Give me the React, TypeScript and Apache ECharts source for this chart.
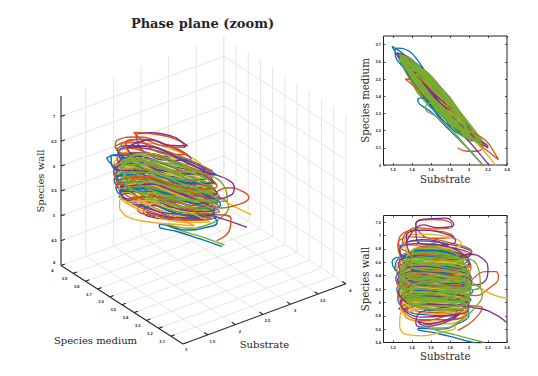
import React, { useEffect, useRef } from "react";
import * as echarts from "echarts";

type T = number[];

const chartTitle = "Phase plane (zoom)";
const substrateName = "Substrate";
const mediumName = "Species medium";
const wallName = "Species wall";

const colors = { blue: "#0072BD", orange: "#D95319", yellow: "#EDB120", purple: "#7E2F8E", green: "#77AC30" };

const mainSubstrateTicks = [1.5, 2, 2.5, 3, 3.5, 4];
const mainMediumTicks = [3, 3.1, 3.2, 3.3, 3.4, 3.5, 3.6, 3.7, 3.8, 3.9, 4];
const mainWallTicks = [4, 4.5, 5, 5.5, 6, 6.5, 7];
const sideSubstrateTicks = [1.2, 1.4, 1.6, 1.8, 2, 2.2, 2.4];
const sideMediumTicks = [3, 3.1, 3.2, 3.3, 3.4, 3.5, 3.6, 3.7];
const sideWallTicks = [5.4, 5.6, 5.8, 6, 6.2, 6.4, 6.6, 6.8, 7, 7.2];

// [substrate, medium, wall]
const blueTrack: T[] = [
  [2.16,2.99,5.37],[1.98,3.1,5.42],[1.8,3.2,5.49],[1.62,3.3,5.55],[1.46,3.38,5.6],[1.5,3.39,5.61],[1.7,3.27,5.6],[1.88,3.2,5.68],[2.0,3.15,5.82],[1.9,3.25,5.95],[1.62,3.42,5.98],[1.36,3.54,5.92],
  [1.26,3.62,5.9],[1.44,3.56,6.02],[1.8,3.35,5.97],[2.0,3.16,5.9],[1.82,3.25,5.8],[1.48,3.47,5.82],
  [1.25,3.64,6.06],[1.42,3.59,6.18],[1.78,3.37,6.12],[2.02,3.14,6.04],[1.84,3.23,5.94],[1.45,3.48,5.97],
  [1.24,3.65,6.2],[1.4,3.6,6.32],[1.8,3.36,6.26],[2.04,3.14,6.17],[1.86,3.2,6.08],[1.48,3.45,6.1],
  [1.23,3.65,6.36],[1.38,3.62,6.48],[1.76,3.41,6.44],[2.03,3.15,6.32],[1.82,3.21,6.24],[1.43,3.47,6.26],
  [1.22,3.66,6.5],[1.19,3.69,6.6],[1.3,3.65,6.68],[1.6,3.5,6.68],[1.95,3.26,6.5],[2.02,3.16,6.38],[1.8,3.27,6.38],[1.4,3.52,6.46],
  [1.22,3.66,6.48],[1.25,3.68,6.64],[1.62,3.49,6.78],[2.0,3.22,6.64],[1.8,3.28,6.54],[1.44,3.5,6.58],
  [1.27,3.64,6.8],[1.44,3.58,6.92],[1.82,3.35,6.86],[2.03,3.17,6.74],[1.8,3.29,6.66],[1.44,3.5,6.7],
  [1.3,3.62,6.68],[1.48,3.56,6.78],[1.85,3.32,6.72],[2.01,3.17,6.58],[1.82,3.26,6.52],[1.48,3.46,6.54],
  [1.25,3.64,6.28],[1.44,3.57,6.4],[1.84,3.32,6.32],[2.02,3.15,6.22],[1.84,3.23,6.14],[1.5,3.45,6.18],
  [1.27,3.62,6.0],[1.44,3.55,6.1],[1.8,3.35,6.04],[1.99,3.17,5.97],[1.82,3.24,5.87],[1.56,3.42,5.88],
];

const orangeTrack: T[] = [
  [1.88,3.1,5.58],[1.98,3.08,5.66],[2.08,3.08,5.78],[2.14,3.1,5.92],[2.02,3.16,5.95],[1.9,3.22,5.88],[1.72,3.3,5.78],[1.5,3.42,5.72],[1.33,3.5,5.8],[1.5,3.48,5.9],[1.85,3.32,5.9],[1.98,3.19,5.84],
  [1.82,3.28,5.74],[1.5,3.47,5.74],[1.28,3.62,5.97],[1.46,3.55,6.08],[1.82,3.34,6.02],[2.0,3.17,5.94],[1.84,3.24,5.84],[1.5,3.45,5.86],
  [1.25,3.64,6.14],[1.44,3.57,6.26],[1.8,3.36,6.2],[2.06,3.14,6.1],[2.2,3.08,6.2],[2.31,3.03,6.38],[2.28,3.06,6.46],[2.18,3.14,6.46],[1.96,3.22,6.28],[1.5,3.45,6.12],
  [1.24,3.65,6.3],[1.42,3.59,6.42],[1.84,3.33,6.36],[2.02,3.15,6.28],[1.88,3.2,6.18],[1.48,3.46,6.22],
  [1.24,3.65,6.48],[1.4,3.61,6.6],[1.78,3.39,6.56],[2.01,3.17,6.44],[1.8,3.27,6.34],[1.42,3.51,6.38],
  [1.27,3.64,6.64],[1.44,3.59,6.76],[1.84,3.35,6.68],[2.02,3.17,6.56],[1.8,3.28,6.48],[1.44,3.5,6.52],
  [1.25,3.65,6.86],[1.38,3.6,6.98],[1.72,3.43,6.92],[2.03,3.2,6.76],[1.76,3.31,6.7],[1.42,3.52,6.74],
  [1.26,3.65,6.88],[1.28,3.64,7.0],[1.46,3.58,7.08],[1.72,3.42,7.06],[1.84,3.32,6.98],[1.62,3.4,6.96],[1.5,3.5,7.02],
  [1.44,3.58,7.18],[1.62,3.47,7.24],[1.8,3.36,7.2],[1.82,3.33,7.12],[1.6,3.42,7.1],[1.45,3.53,7.12],
  [1.3,3.62,6.92],[1.5,3.55,6.84],[1.9,3.28,6.72],[2.02,3.16,6.52],[1.84,3.24,6.42],[1.48,3.47,6.46],
  [1.27,3.63,6.22],[1.44,3.56,6.32],[1.8,3.35,6.26],[2.01,3.16,6.16],[1.84,3.24,6.08],[1.54,3.43,6.08],
  [1.32,3.59,5.86],[1.48,3.53,5.96],[1.78,3.36,5.92],[1.96,3.2,5.82],[1.76,3.3,5.72],[1.56,3.42,5.68],
];

const yellowTrack: T[] = [
  [2.4,2.92,6.06],[2.28,3.0,6.1],[2.16,3.08,6.18],[2.02,3.17,6.3],[1.84,3.3,6.32],[1.5,3.46,6.22],
  [1.26,3.63,6.12],[1.42,3.58,6.22],[1.82,3.34,6.16],[2.0,3.17,6.06],[1.82,3.25,5.98],[1.48,3.47,6.0],
  [1.28,3.62,5.84],[1.27,3.62,5.66],[1.34,3.58,5.52],[1.5,3.49,5.5],[1.72,3.36,5.56],[1.86,3.27,5.62],[1.7,3.36,5.7],[1.44,3.5,5.72],
  [1.28,3.62,5.92],[1.44,3.56,6.02],[1.8,3.35,5.98],[1.98,3.18,5.92],[1.8,3.27,5.82],[1.5,3.47,5.84],
  [1.25,3.64,6.32],[1.44,3.58,6.44],[1.82,3.35,6.38],[2.02,3.16,6.3],[1.86,3.22,6.2],[1.48,3.46,6.24],
  [1.24,3.65,6.54],[1.42,3.6,6.64],[1.8,3.37,6.6],[2.0,3.19,6.48],[1.8,3.27,6.4],[1.44,3.5,6.44],
  [1.27,3.63,6.74],[1.44,3.58,6.86],[1.82,3.36,6.8],[2.0,3.19,6.7],[1.78,3.31,6.6],[1.44,3.5,6.64],
  [1.32,3.61,6.94],[1.5,3.53,7.02],[1.78,3.38,6.98],[1.92,3.25,6.88],[1.72,3.34,6.8],[1.46,3.5,6.82],
  [1.27,3.62,6.4],[1.46,3.56,6.52],[1.84,3.33,6.46],[2.03,3.15,6.36],[1.84,3.24,6.28],[1.5,3.45,6.32],
  [1.26,3.63,6.04],[1.44,3.57,6.16],[1.82,3.34,6.1],[2.01,3.16,6.02],[1.82,3.26,5.92],[1.52,3.44,5.94],
  [1.32,3.59,5.8],[1.48,3.51,5.9],[1.78,3.35,5.86],[1.96,3.19,5.78],[1.76,3.3,5.68],[1.52,3.44,5.68],
];

const purpleTrack: T[] = [
  [2.4,2.87,5.7],[2.21,3.0,5.87],[2.06,3.1,5.92],[1.9,3.2,5.95],[1.72,3.34,5.92],[1.5,3.47,5.86],
  [1.44,3.5,5.7],[1.5,3.47,5.63],[1.66,3.38,5.66],[1.82,3.28,5.74],[1.88,3.24,5.8],[1.72,3.34,5.72],[1.52,3.46,5.66],
  [1.46,3.49,5.72],[1.58,3.44,5.68],[1.76,3.32,5.74],[1.92,3.22,5.84],[1.76,3.32,5.8],[1.5,3.47,5.78],
  [1.28,3.62,6.0],[1.44,3.56,6.12],[1.82,3.34,6.06],[2.0,3.17,5.98],[1.82,3.25,5.88],[1.5,3.46,5.92],
  [1.26,3.63,6.16],[1.42,3.59,6.28],[1.82,3.35,6.22],[2.02,3.15,6.14],[1.86,3.22,6.06],[1.5,3.45,6.08],
  [1.25,3.64,6.34],[1.44,3.58,6.46],[1.82,3.35,6.4],[2.03,3.14,6.3],[1.88,3.2,6.22],[1.5,3.45,6.26],
  [1.26,3.63,6.58],[1.44,3.59,6.68],[1.8,3.38,6.64],[2.0,3.2,6.72],[2.14,3.12,6.66],[2.2,3.1,6.5],[2.18,3.12,6.34],[2.02,3.17,6.26],[1.7,3.36,6.38],[1.44,3.5,6.46],
  [1.27,3.63,6.78],[1.44,3.58,6.88],[1.82,3.36,6.82],[2.02,3.18,6.72],[1.76,3.32,6.64],[1.44,3.51,6.68],
  [1.34,3.6,6.98],[1.5,3.54,7.08],[1.76,3.4,7.02],[1.86,3.3,6.92],[1.7,3.36,6.86],[1.46,3.5,6.9],
  [1.44,3.56,7.16],[1.56,3.5,7.25],[1.76,3.38,7.26],[1.84,3.32,7.16],[1.66,3.4,7.12],[1.52,3.48,7.16],
  [1.34,3.59,6.9],[1.5,3.54,6.94],[1.84,3.34,6.8],[2.0,3.19,6.6],[1.84,3.25,6.5],[1.48,3.47,6.54],
  [1.24,3.65,6.42],[1.42,3.6,6.54],[1.84,3.33,6.48],[2.02,3.16,6.38],[1.86,3.23,6.28],[1.5,3.45,6.32],
  [1.28,3.62,6.08],[1.44,3.57,6.2],[1.82,3.34,6.14],[2.0,3.17,6.04],[1.84,3.24,5.96],[1.56,3.42,5.98],
];

const greenTrack: T[] = [
  [2.16,2.99,5.4],[2.0,3.09,5.46],[1.84,3.19,5.52],[1.66,3.28,5.58],[1.54,3.33,5.64],[1.58,3.36,5.62],[1.74,3.27,5.62],[1.9,3.2,5.72],[2.06,3.14,5.92],[2.14,3.12,6.12],[2.06,3.17,6.26],[1.86,3.27,6.12],[1.5,3.46,5.98],
  [1.44,3.53,5.96],[1.58,3.46,6.02],[1.76,3.36,6.0],[1.9,3.23,5.94],[1.74,3.31,5.9],[1.56,3.43,5.92],
  [1.38,3.56,5.98],[1.5,3.52,6.06],[1.82,3.35,6.02],[1.98,3.18,5.96],[1.82,3.26,5.88],[1.5,3.44,5.92],
  [1.34,3.58,6.04],[1.46,3.57,6.12],[1.84,3.32,6.08],[2.0,3.17,6.02],[1.84,3.24,5.94],[1.48,3.47,5.96],
  [1.3,3.6,6.12],[1.46,3.54,6.2],[1.86,3.31,6.14],[2.0,3.16,6.08],[1.88,3.21,6.0],[1.5,3.43,6.02],
  [1.28,3.63,6.18],[1.44,3.59,6.28],[1.84,3.35,6.22],[2.02,3.15,6.14],[1.86,3.2,6.06],[1.52,3.42,6.08],
  [1.27,3.61,6.26],[1.46,3.55,6.36],[1.88,3.3,6.3],[2.01,3.17,6.22],[1.84,3.25,6.14],[1.46,3.47,6.16],
  [1.27,3.64,6.34],[1.42,3.6,6.44],[1.84,3.33,6.38],[2.02,3.14,6.3],[1.88,3.21,6.22],[1.5,3.46,6.24],
  [1.27,3.62,6.42],[1.46,3.56,6.52],[1.82,3.37,6.46],[2.01,3.18,6.38],[1.82,3.27,6.3],[1.48,3.44,6.32],
  [1.28,3.64,6.5],[1.44,3.59,6.6],[1.84,3.32,6.54],[2.0,3.19,6.46],[1.86,3.23,6.38],[1.46,3.49,6.4],
  [1.3,3.62,6.58],[1.46,3.57,6.66],[1.82,3.36,6.62],[1.98,3.2,6.54],[1.82,3.25,6.46],[1.5,3.45,6.48],
  [1.34,3.6,6.66],[1.48,3.56,6.74],[1.8,3.38,6.7],[1.94,3.24,6.62],[1.8,3.28,6.56],[1.46,3.48,6.58],
  [1.4,3.57,6.74],[1.52,3.52,6.82],[1.76,3.38,6.78],[1.88,3.27,6.7],[1.72,3.33,6.66],[1.48,3.49,6.68],
  [1.28,3.62,6.5],[1.44,3.57,6.62],[1.96,3.26,6.66],[2.1,3.13,6.5],[2.12,3.12,6.24],[1.96,3.2,6.18],[1.6,3.4,6.14],[1.4,3.54,6.08],
  [1.32,3.6,6.14],[1.48,3.53,6.24],[1.84,3.33,6.18],[2.01,3.17,6.1],[1.84,3.25,6.02],[1.48,3.45,6.04],
  [1.29,3.6,6.32],[1.47,3.56,6.4],[1.86,3.32,6.34],[2.02,3.16,6.26],[1.85,3.24,6.18],[1.47,3.48,6.2],
  [1.3,3.63,6.46],[1.46,3.56,6.56],[1.82,3.34,6.5],[2.0,3.18,6.42],[1.84,3.25,6.34],[1.5,3.44,6.36],
];

const greenCoreMedium: T[] = [
  [1.277,3.652],[1.4,3.61],[1.6,3.515],[1.8,3.4],[1.9,3.32],[2.07,3.2],[2.19,3.107],[2.15,3.107],[2.05,3.136],[1.8,3.243],[1.59,3.33],[1.45,3.418],[1.33,3.535],[1.277,3.593],
];
const greenCoreWall: T[] = [
  [1.63,6.9],[1.9,6.74],[2.02,6.38],[1.88,6.06],[1.56,5.92],[1.34,6.02],[1.28,6.38],[1.36,6.76],
];

const project = (s: number, m: number, w: number) => [
  183 + 55.2 * (s - 1.05) - 122 * (m - 3),
  344 - 20.4 * (s - 1.05) - 78.5 * (m - 3) - 49.7 * (w - 4),
];

const S0 = 1.05, S1 = 4, M0 = 3, M1 = 4, W0 = 4, W1 = 7.41;
const serif = "'DejaVu Serif', 'Liberation Serif', serif";
const tickFont = "'Liberation Sans', sans-serif";

function buildGridLines() {
  const pts: (number[] | null[])[] = [];
  const seg = (a: number[], b: number[]) => {
    pts.push(project(a[0], a[1], a[2]), project(b[0], b[1], b[2]), [null, null]);
  };
  for (const s of mainSubstrateTicks) {
    seg([s, M0, W0], [s, M1, W0]);
    seg([s, M1, W0], [s, M1, W1]);
  }
  for (const m of mainMediumTicks) {
    seg([S0, m, W0], [S1, m, W0]);
    seg([S1, m, W0], [S1, m, W1]);
  }
  for (const w of mainWallTicks) {
    if (w === W0) continue;
    seg([S0, M1, w], [S1, M1, w]);
    seg([S1, M1, w], [S1, M0, w]);
  }
  return pts;
}

function buildAxisLines() {
  const pts: (number[] | null[])[] = [];
  const seg = (a: number[], b: number[]) => {
    pts.push(project(a[0], a[1], a[2]), project(b[0], b[1], b[2]), [null, null]);
  };
  seg([S0, M1, W0], [S0, M1, W1]);
  seg([S0, M1, W0], [S0, M0, W0]);
  seg([S0, M0, W0], [S1, M0, W0]);
  for (const w of mainWallTicks) seg([S0, M1, w], [S0 + 0.07, M1, w]);
  for (const m of mainMediumTicks) seg([S0, m, W0], [S0 + 0.07, m, W0]);
  for (const s of mainSubstrateTicks) seg([s, M0, W0], [s, M0 + 0.03, W0]);
  return pts;
}

const tinyLabel = (text: string | number, x: number, y: number) => ({
  type: "text",
  x,
  y,
  silent: true,
  style: { text: String(text), fontSize: 4, fontWeight: "bold", fontFamily: tickFont, fill: "#1a1a2e", align: "center", verticalAlign: "middle" },
});

const bigLabel = (text: string, x: number, y: number, size: number, rotation = 0, weight = "normal") => ({
  type: "text",
  x,
  y,
  rotation,
  silent: true,
  style: { text, fontSize: size, fontWeight: weight, fontFamily: serif, fill: "#262626", align: "center", verticalAlign: "middle" },
});

function sideAxis(idx: number, kind: "x" | "y", min: number, max: number, ticks: number[], name: string) {
  const base = {
    type: "value",
    gridIndex: idx,
    min,
    max,
    splitLine: { show: false },
    axisLine: { show: false },
    axisTick: { show: true, inside: true, length: 2, customValues: ticks, lineStyle: { color: "#222", width: 0.8 } },
  };
  const main = {
    ...base,
    position: kind === "x" ? "bottom" : "left",
    name,
    nameLocation: "middle",
    nameGap: kind === "x" ? 9 : 13,
    nameTextStyle: { fontFamily: serif, fontSize: 10.2, color: "#262626" },
    axisLabel: { show: true, customValues: ticks, fontSize: 4, fontWeight: "bold", fontFamily: tickFont, color: "#1a1a2e", margin: 2.5 },
  };
  const mirror = { ...base, position: kind === "x" ? "top" : "right", axisLabel: { show: false } };
  return [main, mirror];
}

function chunks(track: T[], size: number) {
  const out: T[][] = [];
  for (let i = 0; i < track.length - 1; i += size) out.push(track.slice(i, i + size + 1));
  return out;
}

export default function App() {
  const ref = useRef<HTMLDivElement>(null);
  useEffect(() => {
    const chart = echarts.init(ref.current!, undefined, { renderer: "svg" });
    const tracks: [string, T[]][] = [
      ["blue", blueTrack], ["orange", orangeTrack], ["yellow", yellowTrack], ["purple", purpleTrack], ["green", greenTrack],
    ];

    const line = (name: string, color: string, data: any[], x: number, y: number, width: number, smooth: number | boolean = 0.5) => ({
      type: "line", name, data, xAxisIndex: x, yAxisIndex: y, showSymbol: false, symbol: "none", smooth,
      connectNulls: false, lineStyle: { color, width }, silent: true, animation: false,
    });

    const mainSeries: any[] = [];
    const chunked = tracks.map(([n, t]) => [n, chunks(t.filter((p) => p[1] >= M0), 12)] as [string, T[][]]);
    const rounds = Math.max(...chunked.map((c) => c[1].length));
    for (let r = 0; r < rounds; r++) {
      const order = r % 2 === 0 ? [4, 2, 0, 3, 1] : [0, 4, 1, 2, 3];
      for (const i of order) {
        const [n, cs] = chunked[i];
        if (cs[r]) mainSeries.push(line(n, (colors as any)[n], cs[r].map((p) => project(p[0], p[1], p[2])), 0, 0, 1.4));
      }
    }

    const coreSeries = (name: string, pts: T[], x: number, y: number) => ({
      type: "custom",
      name,
      xAxisIndex: x,
      yAxisIndex: y,
      silent: true,
      clip: true,
      data: [pts[0]],
      renderItem: (_p: any, api: any) => ({
        type: "polygon",
        shape: { points: pts.map((q) => api.coord(q)) },
        style: { fill: colors.green },
      }),
    });

    const sideSeries = (x: number, y: number, pick: (p: T) => number[], core: any, split: number) => [
      ...tracks.slice(0, split).map(([n, t]) => line(n, (colors as any)[n], t.map(pick), x, y, 1.3)),
      core,
      ...tracks.slice(split).map(([n, t]) => line(n, (colors as any)[n], t.map(pick), x, y, 1.3)),
    ];

    const graphics: any[] = [
      bigLabel(chartTitle, 202.5, 23, 13, 0, "bold"),
      bigLabel(wallName, 40, 181, 10, Math.PI / 2),
      bigLabel(mediumName, 95.5, 340, 10),
      bigLabel(substrateName, 264.5, 344.5, 10),
    ];
    for (const w of mainWallTicks) {
      const p = project(S0, M1, w);
      graphics.push(tinyLabel(w, p[0] - 7, p[1] - (w === W0 ? 3 : 0)));
    }
    for (const m of mainMediumTicks) {
      const p = project(S0, m, W0);
      graphics.push(tinyLabel(m, p[0] - (m === 3 ? -3 : 8.7), p[1] + 5));
    }
    for (const s of mainSubstrateTicks) {
      const p = project(s, M0, W0);
      graphics.push(tinyLabel(s, p[0] + 4.5, p[1] + 6.5));
    }

    const topXs = sideAxis(1, "x", 1.1, 2.4, sideSubstrateTicks, substrateName);
    const topYs = sideAxis(1, "y", 3, 3.75, sideMediumTicks, mediumName);
    const botXs = sideAxis(2, "x", 1.1, 2.4, sideSubstrateTicks, substrateName);
    const botYs = sideAxis(2, "y", 5.4, 7.3, sideWallTicks, wallName);

    chart.setOption({
      animation: false,
      backgroundColor: "#fff",
      grid: [
        { left: 0, top: 0, width: 538, height: 376 },
        { left: 383.5, top: 36, width: 123.5, height: 129, show: true, borderColor: "#222", borderWidth: 1, backgroundColor: "transparent" },
        { left: 383.5, top: 215.5, width: 123.5, height: 127, show: true, borderColor: "#222", borderWidth: 1, backgroundColor: "transparent" },
      ],
      xAxis: [
        { type: "value", gridIndex: 0, min: 0, max: 538, show: false },
        ...topXs, ...botXs,
      ],
      yAxis: [
        { type: "value", gridIndex: 0, min: 0, max: 376, inverse: true, show: false },
        ...topYs, ...botYs,
      ],
      graphic: graphics,
      series: [
        line("grid", "#e6e6e6", buildGridLines(), 0, 0, 1, false),
        line("axes", "#262626", buildAxisLines(), 0, 0, 1.1, false),
        ...mainSeries,
        ...sideSeries(1, 1, (p) => [p[0], p[1]], coreSeries("coreMedium", greenCoreMedium, 1, 1), 4),
        ...sideSeries(3, 3, (p) => [p[0], p[2]], coreSeries("coreWall", greenCoreWall, 3, 3), 3),
      ],
    });
    return () => chart.dispose();
  }, []);
  return <div ref={ref} style={{ position: "absolute", left: 0, top: 0, width: 538, height: 376 }} />;
}
